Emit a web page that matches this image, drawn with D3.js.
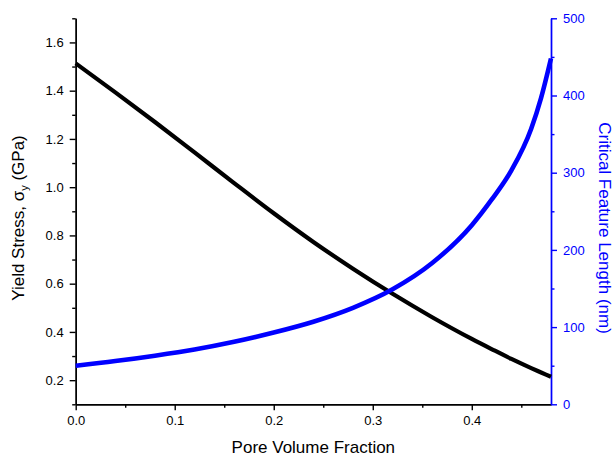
<!DOCTYPE html>
<html>
<head>
<meta charset="utf-8">
<title>Yield stress and critical feature length</title>
<style>
  body {margin: 0; padding: 0; background: #fff; overflow: hidden;}
  svg {display: block; font-family: "Liberation Sans", Arial, sans-serif;}
  .tick text {font-size: 13px;}
</style>
</head>
<body>
<div id="chart"></div>
<script src="https://cdn.jsdelivr.net/npm/d3@7"></script>
<script>
// values
var poreFraction = [0, 0.04, 0.08, 0.12, 0.16, 0.20, 0.24, 0.28, 0.32, 0.36, 0.40, 0.42, 0.44, 0.46, 0.47, 0.48];
var yieldStress  = [1.513, 1.393, 1.270, 1.144, 1.017, 0.892, 0.773, 0.662, 0.558, 0.461, 0.371, 0.329, 0.288, 0.250, 0.232, 0.214];
var featureLen   = [50, 56, 63, 71, 81, 93, 107, 125, 149, 183, 232, 265, 303, 357, 397, 448];

var xMajor = [0, 0.1, 0.2, 0.3, 0.4];
var xMinor = [0.05, 0.15, 0.25, 0.35, 0.45];
var leftMajor = [0.2, 0.4, 0.6, 0.8, 1.0, 1.2, 1.4, 1.6];
var leftMinor = [0.1, 0.3, 0.5, 0.7, 0.9, 1.1, 1.3, 1.5, 1.7];
var rightMajor = [0, 100, 200, 300, 400, 500];
var rightMinor = [50, 150, 250, 350, 450];

var width = 614, height = 459;
// plot box (window.top is read-only, so no plain "top" here)
var plotLeft = 75.7, plotRight = 551, plotTop = 18.3, plotBottom = 404.3;
var blue = "#0000ff";

var svg = d3.select("#chart").append("svg")
    .attr("width", width)
    .attr("height", height);

var x = d3.scaleLinear().domain([0, 0.48]).range([plotLeft, plotRight]);
var yL = d3.scaleLinear().domain([0.1, 1.7]).range([plotBottom, plotTop]);
var yR = d3.scaleLinear().domain([0, 500]).range([plotBottom, plotTop]);

function styleAxis(g, color) {
    g.select(".domain").attr("stroke", color).attr("stroke-width", 1.4);
    g.selectAll(".tick line").attr("stroke", color).attr("stroke-width", 1.4);
    g.selectAll(".tick text").attr("fill", color);
}

// bottom axis
var gx = svg.append("g").attr("transform", "translate(0," + plotBottom + ")")
    .call(d3.axisBottom(x).tickValues(xMajor).tickFormat(d3.format(".1f")).tickSize(6).tickSizeOuter(0).tickPadding(5));
styleAxis(gx, "#000");
var gx2 = svg.append("g").attr("transform", "translate(0," + plotBottom + ")")
    .call(d3.axisBottom(x).tickValues(xMinor).tickFormat("").tickSize(3.5).tickSizeOuter(0));
styleAxis(gx2, "#000");

// left axis
var gl = svg.append("g").attr("transform", "translate(" + plotLeft + ",0)")
    .call(d3.axisLeft(yL).tickValues(leftMajor).tickFormat(d3.format(".1f")).tickSize(6).tickSizeOuter(0).tickPadding(6));
styleAxis(gl, "#000");
var gl2 = svg.append("g").attr("transform", "translate(" + plotLeft + ",0)")
    .call(d3.axisLeft(yL).tickValues(leftMinor).tickFormat("").tickSize(3.5).tickSizeOuter(0));
styleAxis(gl2, "#000");

// right axis
var gr = svg.append("g").attr("transform", "translate(" + plotRight + ",0)")
    .call(d3.axisRight(yR).tickValues(rightMajor).tickSize(6).tickSizeOuter(0).tickPadding(6));
styleAxis(gr, blue);
var gr2 = svg.append("g").attr("transform", "translate(" + plotRight + ",0)")
    .call(d3.axisRight(yR).tickValues(rightMinor).tickFormat("").tickSize(3.5).tickSizeOuter(0));
styleAxis(gr2, blue);

// curves
var stressLine = d3.line()
    .x(function(d, i) { return x(poreFraction[i]); })
    .y(function(d) { return yL(d); })
    .curve(d3.curveMonotoneX);
var lengthLine = d3.line()
    .x(function(d, i) { return x(poreFraction[i]); })
    .y(function(d) { return yR(d); })
    .curve(d3.curveMonotoneX);

svg.append("path").datum(yieldStress)
    .attr("d", stressLine)
    .attr("fill", "none").attr("stroke", "#000").attr("stroke-width", 4.2);
svg.append("path").datum(featureLen)
    .attr("d", lengthLine)
    .attr("fill", "none").attr("stroke", blue).attr("stroke-width", 4.6);

// titles
svg.append("text")
    .attr("x", (plotLeft + plotRight) / 2).attr("y", 453)
    .attr("text-anchor", "middle")
    .style("font-size", "17px")
    .text("Pore Volume Fraction");

var lt = svg.append("text")
    .attr("transform", "translate(24,218) rotate(-90)")
    .attr("text-anchor", "middle")
    .style("font-size", "17px");
lt.append("tspan").text("Yield Stress, \u03c3");
lt.append("tspan").attr("dy", 4).style("font-size", "11px").text("y");
lt.append("tspan").attr("dy", -4).text(" (GPa)");

svg.append("text")
    .attr("transform", "translate(599,228) rotate(90)")
    .attr("text-anchor", "middle")
    .attr("fill", blue)
    .style("font-size", "17px")
    .text("Critical Feature Length (nm)");
</script>
</body>
</html>
